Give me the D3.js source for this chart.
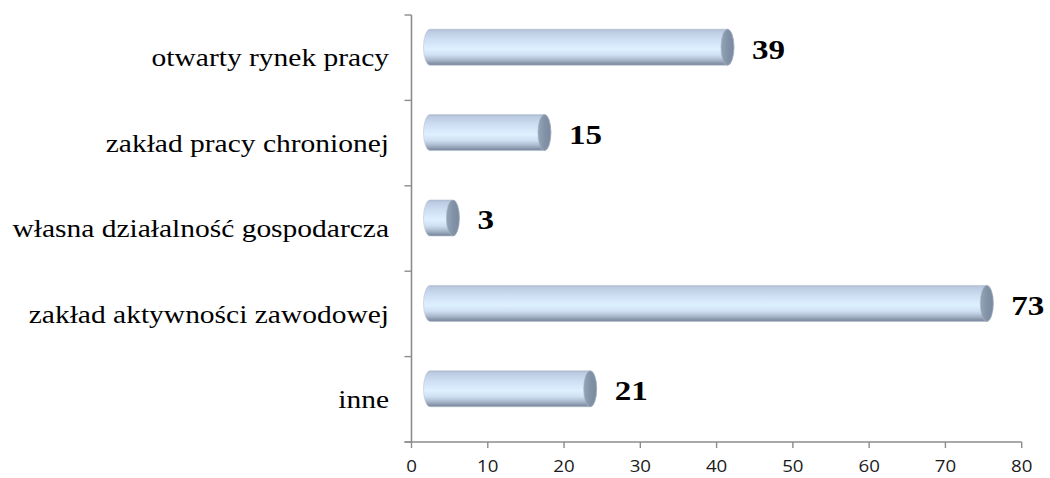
<!DOCTYPE html>
<html>
<head>
<meta charset="utf-8">
<script src="https://cdn.jsdelivr.net/npm/d3@7"></script>
<style>
  html, body { margin: 0; padding: 0; background: #ffffff; }
  svg { display: block; }
</style>
</head>
<body>
<svg id="chart" width="1050" height="478"></svg>
<script>
// ---- data ----
const categories = [
  "otwarty rynek pracy",
  "zakład pracy chronionej",
  "własna działalność gospodarcza",
  "zakład aktywności zawodowej",
  "inne"
];
const values = [39, 15, 3, 73, 21];
const xTicks = [0, 10, 20, 30, 40, 50, 60, 70, 80];

// ---- layout ----
const W = 1050, H = 478;
const plot = { left: 411.5, right: 1021.7, top: 15, bottom: 442 };
const stretch = 1.18;      // horizontal text stretch seen in the reference
const depth = 18.5;        // 3D depth offset of cylinders
const capRx = 6.5;
const barH = 36;
const barShift = -10.5;

const svg = d3.select("#chart");

const x = d3.scaleLinear().domain([0, 80]).range([plot.left, plot.right]);
const y = d3.scaleBand().domain(categories).range([plot.top, plot.bottom]);

// gradients
const defs = svg.append("defs");
const bodyGrad = defs.append("linearGradient")
  .attr("id", "bodyGrad").attr("x1", 0).attr("y1", 0).attr("x2", 0).attr("y2", 1);
[
  [0, "#aab9cf"], [0.06, "#bccbe1"], [0.3, "#cfdff4"], [0.55, "#def1ff"],
  [0.72, "#cfdff2"], [0.86, "#a9b7cb"], [1, "#748297"]
].forEach(([o, c]) => bodyGrad.append("stop").attr("offset", o).attr("stop-color", c));

const capGrad = defs.append("linearGradient")
  .attr("id", "capGrad").attr("x1", 0).attr("y1", 0).attr("x2", 1).attr("y2", 0);
[[0, "#95a5b8"], [0.5, "#8393a7"], [1, "#7a899d"]]
  .forEach(([o, c]) => capGrad.append("stop").attr("offset", o).attr("stop-color", c));

// axes lines
const axisColor = "#8c8c8c";
const g = svg.append("g");

// y axis
g.append("line")
  .attr("x1", plot.left).attr("x2", plot.left)
  .attr("y1", plot.top).attr("y2", plot.bottom)
  .attr("stroke", axisColor).attr("stroke-width", 1.6);
const yTickPos = categories.map(c => y(c)).concat([plot.bottom]);
g.selectAll(".ytick").data(yTickPos).join("line")
  .attr("x1", plot.left - 7).attr("x2", plot.left)
  .attr("y1", d => d).attr("y2", d => d)
  .attr("stroke", axisColor).attr("stroke-width", 1.4);

// x axis
g.append("line")
  .attr("x1", plot.left - 7).attr("x2", plot.right)
  .attr("y1", plot.bottom).attr("y2", plot.bottom)
  .attr("stroke", axisColor).attr("stroke-width", 1.6);
g.selectAll(".xtick").data(xTicks).join("line")
  .attr("x1", d => x(d)).attr("x2", d => x(d))
  .attr("y1", plot.bottom).attr("y2", plot.bottom + 6)
  .attr("stroke", axisColor).attr("stroke-width", 1.4);

g.selectAll(".xlab").data(xTicks).join("text")
  .attr("transform", d => `translate(${x(d)},${plot.bottom + 25}) scale(1.1,1)`)
  .attr("text-anchor", "middle")
  .attr("dominant-baseline", "middle")
  .attr("font-family", "'Open Sans', 'Liberation Sans', Arial, sans-serif")
  .attr("font-size", 17)
  .attr("fill", "#1a1a1a")
  .text(d => d);

// category labels
g.selectAll(".ylab").data(categories).join("text")
  .attr("transform", d => `translate(389,${y(d) + y.bandwidth() / 2 + 3}) scale(${stretch},1)`)
  .attr("text-anchor", "end")
  .attr("dominant-baseline", "middle")
  .attr("font-family", "'Liberation Serif', 'Times New Roman', serif")
  .attr("font-size", 25)
  .attr("fill", "#000")
  .text(d => d);

// cylinders
const data = categories.map((c, i) => ({ c, v: values[i] }));
const bars = g.selectAll(".bar").data(data).join("g");

bars.append("path")
  .attr("d", d => {
    const cy = y(d.c) + y.bandwidth() / 2 + barShift;
    const x0 = x(0) + depth, x1 = x(d.v) + depth;
    const ry = barH / 2;
    return `M${x1},${cy - ry} L${x0},${cy - ry} ` +
      `A${capRx},${ry} 0 0 0 ${x0},${cy + ry} ` +
      `L${x1},${cy + ry} A${capRx},${ry} 0 0 0 ${x1},${cy - ry} Z`;
  })
  .attr("fill", "url(#bodyGrad)")
  .attr("stroke", "#b8c4d4").attr("stroke-width", 0.6);

bars.append("ellipse")
  .attr("cx", d => x(d.v) + depth)
  .attr("cy", d => y(d.c) + y.bandwidth() / 2 + barShift)
  .attr("rx", capRx).attr("ry", barH / 2)
  .attr("fill", "url(#capGrad)")
  .attr("stroke", "#a7b4c4").attr("stroke-width", 0.6);

// value labels
bars.append("text")
  .attr("transform", d => `translate(${x(d.v) + depth + capRx + 18},${y(d.c) + y.bandwidth() / 2 + barShift + 5}) scale(${stretch},1)`)
  .attr("text-anchor", "start")
  .attr("dominant-baseline", "middle")
  .attr("font-family", "'Liberation Serif', 'Times New Roman', serif")
  .attr("font-weight", "bold")
  .attr("font-size", 28)
  .attr("fill", "#000")
  .text(d => d.v);
</script>
</body>
</html>
